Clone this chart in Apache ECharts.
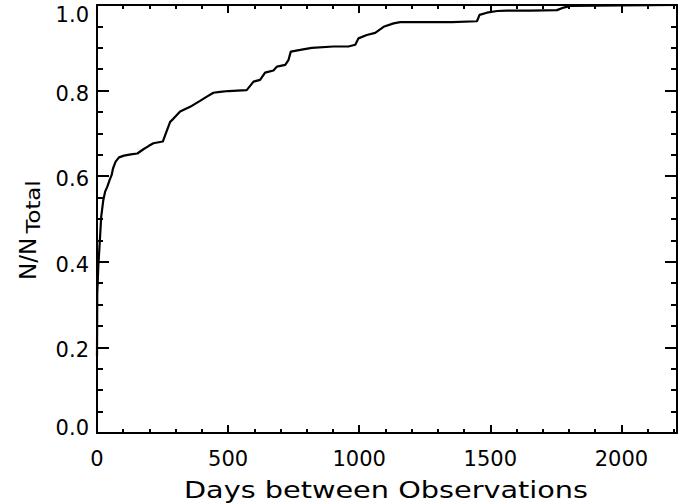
<!DOCTYPE html>
<html>
<head>
<meta charset="utf-8">
<script src="https://cdn.jsdelivr.net/npm/echarts@6/dist/echarts.min.js"></script>
<style>html,body{margin:0;padding:0;background:#fff}#c{width:692px;height:504px}</style>
</head>
<body>
<div id="c"></div>
<script>
// Data (cumulative fraction vs. days between observations)
var days = [0, 1, 5, 11, 16, 24, 31, 39, 48, 56, 61, 71, 84, 103, 129, 154, 177, 198, 215, 251, 260, 279, 291, 317, 355, 393, 419, 444, 469, 501, 571, 584, 597, 622, 641, 673, 686, 718, 730, 739, 775, 819, 902, 959, 985, 997, 1029, 1061, 1093, 1131, 1156, 1208, 1354, 1449, 1459, 1487, 1526, 1564, 1653, 1754, 1780, 1805, 2000, 2212];
var frac = [0.18, 0.326, 0.389, 0.451, 0.505, 0.544, 0.564, 0.575, 0.591, 0.603, 0.618, 0.634, 0.644, 0.648, 0.651, 0.653, 0.663, 0.671, 0.677, 0.681, 0.696, 0.727, 0.734, 0.751, 0.762, 0.776, 0.786, 0.795, 0.797, 0.799, 0.801, 0.811, 0.821, 0.825, 0.842, 0.847, 0.856, 0.860, 0.871, 0.891, 0.895, 0.900, 0.903, 0.903, 0.907, 0.922, 0.930, 0.935, 0.949, 0.957, 0.960, 0.960, 0.960, 0.962, 0.977, 0.982, 0.986, 0.987, 0.987, 0.988, 0.994, 0.998, 0.999, 1.0];
var xMin = 0, xMax = 2212, xMajor = 500, xMinor = 100;
var yMin = 0, yMax = 1, yMajor = 0.2;
var xTitle = 'Days between Observations';
var yTitleMain = 'N/N';
var yTitleSub = 'Total';

var FONT = '"DejaVu Sans", sans-serif';
var chart = echarts.init(document.getElementById('c'), null, {renderer: 'svg'});
var pts = days.map(function (d, i) { return [d, frac[i]]; });

function xAx(pos, interval, len, labels, line) {
  return {
    type: 'value', position: pos, min: xMin, max: xMax, interval: interval,
    axisLine: {show: line, onZero: false, lineStyle: {color: '#000', width: 2}},
    axisTick: {show: true, inside: true, length: len, lineStyle: {color: '#000', width: 2}},
    axisLabel: {show: labels, color: '#000', fontSize: 21, fontFamily: FONT, margin: 15,
      showMaxLabel: false, formatter: function (v) { return String(v); }},
    splitLine: {show: false}
  };
}
function yAx(pos, labels) {
  return {
    type: 'value', position: pos, min: yMin, max: yMax, interval: yMajor,
    axisLine: {show: true, onZero: false, lineStyle: {color: '#000', width: 2}},
    axisTick: {show: true, inside: true, length: 12, lineStyle: {color: '#000', width: 2}},
    minorTick: {show: true, splitNumber: 4, length: 6, lineStyle: {color: '#000', width: 2}},
    axisLabel: {show: labels, color: '#000', margin: 8,
      formatter: function (v) {
        var s = v.toFixed(1);
        if (v === 1) return '{t|' + s + '}';
        if (v === 0) return '{b|' + s + '}';
        return '{n|' + s + '}';
      },
      rich: {
        t: {fontSize: 21, fontFamily: FONT, color: '#000', padding: [19, 0, 0, 0]},
        b: {fontSize: 21, fontFamily: FONT, color: '#000', padding: [0, 0, 11, 0]},
        n: {fontSize: 21, fontFamily: FONT, color: '#000', padding: [6, 0, 0, 0]}
      }},
    splitLine: {show: false}
  };
}

chart.setOption({
  animation: false,
  backgroundColor: '#fff',
  grid: {left: 97, right: 15, top: 5, bottom: 71, containLabel: false},
  xAxis: [
    xAx('bottom', xMajor, 8, true, true),
    xAx('bottom', xMinor, 4, false, false),
    xAx('top', xMajor, 8, false, true),
    xAx('top', xMinor, 4, false, false)
  ],
  yAxis: [yAx('left', true), yAx('right', false)],
  series: [{
    type: 'line', xAxisIndex: 0, yAxisIndex: 0, data: pts,
    showSymbol: false, symbol: 'none',
    lineStyle: {color: '#000', width: 2.2}, z: 3
  }],
  graphic: [
    {type: 'text', x: 386, y: 490, scaleX: 1.25,
      style: {text: xTitle, fontSize: 23, fontFamily: FONT, fill: '#000', align: 'center', verticalAlign: 'middle'}},
    {type: 'text', x: 28, y: 259, rotation: Math.PI / 2,
      style: {text: yTitleMain, fontSize: 23, fontFamily: FONT, fill: '#000', align: 'center', verticalAlign: 'middle'}},
    {type: 'text', x: 34, y: 207, rotation: Math.PI / 2, scaleX: 1.2,
      style: {text: yTitleSub, fontSize: 19, fontFamily: FONT, fill: '#000', align: 'center', verticalAlign: 'middle'}}
  ]
});
</script>
</body>
</html>
